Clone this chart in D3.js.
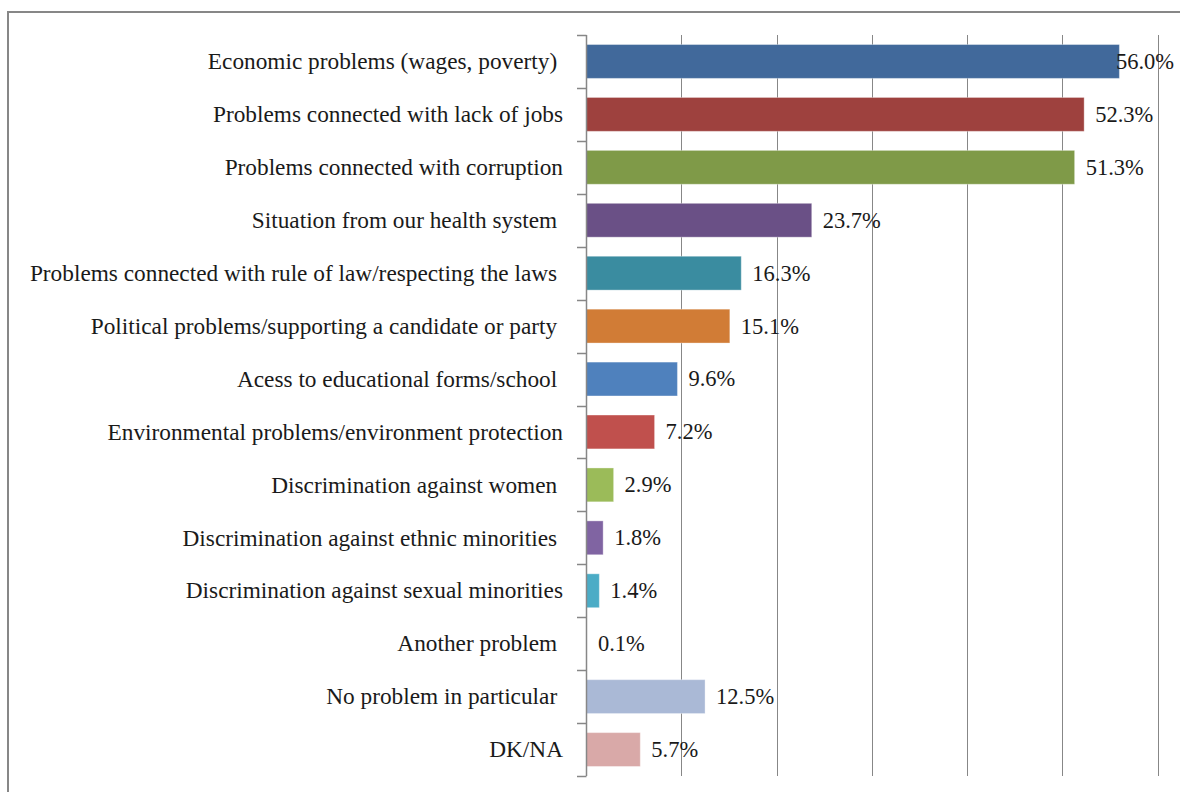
<!DOCTYPE html>
<html>
<head>
<meta charset="utf-8">
<script src="https://cdn.jsdelivr.net/npm/d3@7"></script>
<style>
  html, body { margin: 0; padding: 0; background: #fff; }
  svg { display: block; }
  text { font-family: "Liberation Serif", "Times New Roman", serif; fill: #1a1a1a; }
</style>
</head>
<body>
<svg id="chart" width="1180" height="792"></svg>
<script>
const categories = [
  "Economic problems (wages, poverty) ",
  "Problems connected with lack of jobs",
  "Problems connected with corruption",
  "Situation from our health system ",
  "Problems connected with rule of law/respecting the laws ",
  "Political problems/supporting a candidate or party ",
  "Acess to educational forms/school ",
  "Environmental problems/environment protection",
  "Discrimination against women ",
  "Discrimination against ethnic minorities ",
  "Discrimination against sexual minorities",
  "Another problem ",
  "No problem in particular ",
  "DK/NA"
];
const values = [56.0, 52.3, 51.3, 23.7, 16.3, 15.1, 9.6, 7.2, 2.9, 1.8, 1.4, 0.1, 12.5, 5.7];
const valueLabels = ["56.0%", "52.3%", "51.3%", "23.7%", "16.3%", "15.1%", "9.6%", "7.2%", "2.9%", "1.8%", "1.4%", "0.1%", "12.5%", "5.7%"];
const barColors = ["#41699B", "#9E413E", "#7F9A48", "#6A5086", "#3A8CA0", "#D17C36",
                   "#4F81BD", "#C0504D", "#9BBB59", "#8064A2", "#4BACC6", "#F79646",
                   "#AAB9D6", "#D9A9A8"];
const xTicks = [0, 10, 20, 30, 40, 50, 60];

const svg = d3.select("#chart");

// outer frame
svg.append("rect")
  .attr("x", 8).attr("y", 12)
  .attr("width", 1300).attr("height", 900)
  .attr("fill", "none").attr("stroke", "#878787").attr("stroke-width", 2);

const x = d3.scaleLinear().domain([0, 60]).range([586, 1157.5]);
const y = d3.scaleBand().domain(categories).range([35, 776])
  .paddingInner(0.36).paddingOuter(0.18);

// gridlines
svg.append("g").selectAll("line").data(xTicks.slice(1)).join("line")
  .attr("x1", d => Math.round(x(d)) + 0.5).attr("x2", d => Math.round(x(d)) + 0.5)
  .attr("y1", 35).attr("y2", 776)
  .attr("stroke", "#878787").attr("stroke-width", 1);

// bars
svg.append("g").selectAll("rect").data(values).join("rect")
  .attr("x", x(0))
  .attr("y", (d, i) => y(categories[i]))
  .attr("width", d => x(d) - x(0))
  .attr("height", y.bandwidth())
  .attr("fill", (d, i) => barColors[i])
  .attr("stroke", "rgba(255,255,255,0.35)")
  .attr("stroke-width", 1);

// vertical axis line + ticks between categories
const axisG = svg.append("g");
axisG.append("line")
  .attr("x1", 586.5).attr("x2", 586.5).attr("y1", 35).attr("y2", 776)
  .attr("stroke", "#878787").attr("stroke-width", 1.5);
const tickYs = d3.range(categories.length + 1).map(i => 35 + i * y.step());
axisG.selectAll("line.tk").data(tickYs).join("line").attr("class", "tk")
  .attr("x1", 577).attr("x2", 586.5)
  .attr("y1", d => Math.round(d) + 0.5).attr("y2", d => Math.round(d) + 0.5)
  .attr("stroke", "#878787").attr("stroke-width", 1.5);

// category labels
svg.append("g").selectAll("text").data(categories).join("text")
  .attr("x", 563)
  .attr("y", d => y(d) + y.bandwidth() / 2)
  .attr("dy", "0.33em")
  .attr("text-anchor", "end")
  .style("white-space", "pre")
  .style("font-size", "23.3px")
  .text(d => d);

// value labels
svg.append("g").selectAll("text").data(values).join("text")
  .style("font-size", "22.5px")
  .attr("y", (d, i) => y(categories[i]) + y.bandwidth() / 2)
  .attr("dy", "0.33em")
  .text((d, i) => valueLabels[i])
  .each(function(d) {
    const w = this.getComputedTextLength();
    let xs = x(d) + 11;
    if (xs + w > 1174) xs = 1174 - w;
    d3.select(this).attr("x", xs);
  });
</script>
</body>
</html>
